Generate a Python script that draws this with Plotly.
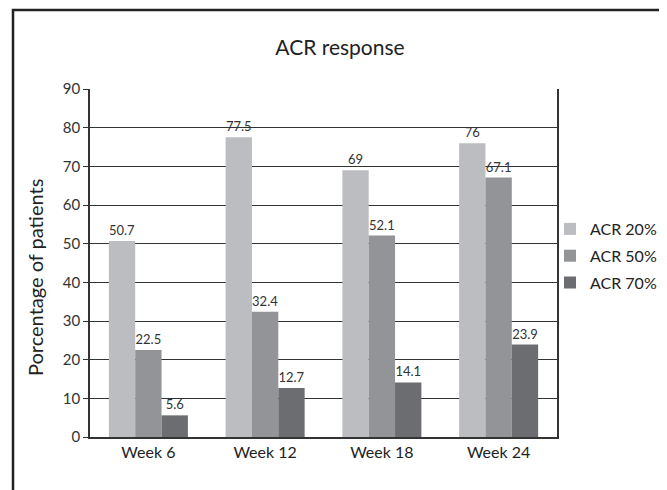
import plotly.graph_objects as go

categories = ["Week 6", "Week 12", "Week 18", "Week 24"]
acr20 = [50.7, 77.5, 69, 76]
acr50 = [22.5, 32.4, 52.1, 67.1]
acr70 = [5.6, 12.7, 14.1, 23.9]
y_ticks = [0, 10, 20, 30, 40, 50, 60, 70, 80, 90]
series_names = ["ACR 20%", "ACR 50%", "ACR 70%"]
series_colors = ["#bcbdc1", "#939498", "#6c6d71"]

FONT = "Lato"
OFF = 8  # browser body margin
W, H = 667 - OFF, 490 - OFF
# plot area in reference pixel coordinates
L, R, T, B = 90, 557, 89, 437
pw, ph = R - L, B - T


def px(x):
    return (x - L) / pw


def py(y):
    return (B - y) / ph


fig = go.Figure()
for name, vals, col in zip(series_names, [acr20, acr50, acr70], series_colors):
    fig.add_trace(go.Bar(
        x=categories, y=vals, name=name, legendgroup=name,
        marker=dict(color=col, line=dict(width=0)),
        text=[str(v) for v in vals], textposition="outside", cliponaxis=False,
        textfont=dict(family=FONT, size=13, color="#333333"),
    ))

fig.update_layout(
    width=W, height=H,
    margin=dict(l=L - OFF, r=W - (R - OFF), t=T - OFF, b=H - (B - OFF), autoexpand=False),
    paper_bgcolor="white", plot_bgcolor="white",
    barmode="group", bargap=0.323, bargroupgap=0,
    font=dict(family=FONT, color="#222222"),
    title=dict(text="ACR response", x=(340 - OFF) / W, xref="container", xanchor="center",
               y=1 - (48 - OFF) / H, yref="container", yanchor="middle",
               font=dict(family=FONT, size=21, color="#222222"), automargin=False),
    legend=dict(x=px(550), y=py(212), xanchor="left", yanchor="top",
                font=dict(family=FONT, size=16, color="#222222"),
                itemwidth=30, tracegroupgap=3, bgcolor="rgba(0,0,0,0)"),
    showlegend=True,
    xaxis=dict(showline=True, linecolor="#333333", linewidth=1.5, mirror=False, automargin=False,
               ticks="", tickfont=dict(family=FONT, size=16, color="#222222")),
    yaxis=dict(range=[0, 90], tickvals=y_ticks, showgrid=True, gridcolor="#333333", gridwidth=1,
               showline=True, linecolor="#333333", linewidth=1.5, mirror=True, automargin=False,
               ticks="outside", ticklen=5, tickcolor="#333333",
               tickfont=dict(family=FONT, size=15, color="#333333"),
               zeroline=False),
    annotations=[dict(text="Porcentage of patients", textangle=-90, xref="paper", yref="paper",
                      x=px(35), y=py(278), xanchor="center", yanchor="middle", showarrow=False,
                      font=dict(family=FONT, size=20, color="#222222"))],
)
fig.add_shape(type="rect", xref="paper", yref="paper",
              x0=px(13), x1=px(663), y0=py(510), y1=py(10),
              line=dict(color="#222222", width=2.5), fillcolor="rgba(0,0,0,0)", layer="above")
fig.write_html("out.html")
